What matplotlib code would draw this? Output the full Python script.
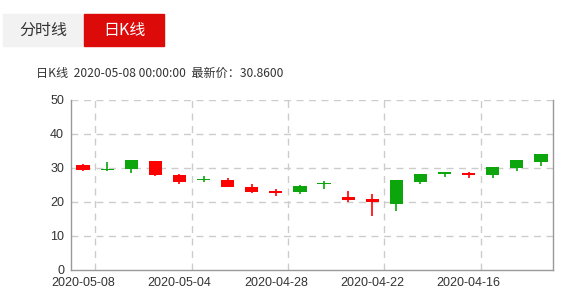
import matplotlib
matplotlib.use("Agg")
import matplotlib.pyplot as plt
from matplotlib.patches import Rectangle

plt.rcParams['font.family'] = ['Liberation Sans', 'Noto Sans CJK SC', 'DejaVu Sans']

# daily candles, newest first (as in the reference)
dates = ["2020-05-08", "2020-05-07", "2020-05-06", "2020-05-05", "2020-05-04",
         "2020-05-01", "2020-04-30", "2020-04-29", "2020-04-28", "2020-04-27",
         "2020-04-24", "2020-04-23", "2020-04-22", "2020-04-21", "2020-04-20",
         "2020-04-17", "2020-04-16", "2020-04-15", "2020-04-14", "2020-04-13"]
opens = [29.4, 29.6, 32.3, 27.9, 26.0, 26.9, 24.4, 22.8, 22.6, 24.8,
         25.5, 20.7, 20.1, 26.4, 28.1, 28.7, 27.8, 30.3, 32.3, 34.1]
closes = [30.86, 29.3, 29.7, 32.0, 28.0, 26.6, 26.6, 24.3, 23.2, 22.8,
          25.2, 21.6, 20.9, 19.3, 25.9, 28.1, 28.5, 27.9, 30.0, 31.7]
highs = [31.2, 31.8, 32.4, 32.1, 28.1, 27.7, 27.0, 25.2, 23.7, 25.0,
         26.2, 23.1, 22.3, 26.5, 28.2, 28.8, 28.9, 30.4, 32.4, 34.2]
lows = [29.2, 29.2, 28.6, 27.6, 25.4, 25.8, 24.3, 22.7, 21.9, 22.4,
        23.9, 20.0, 15.9, 17.4, 25.3, 27.4, 27.1, 27.0, 29.2, 30.6]

up_color = "#ff0000"
down_color = "#0ca60c"

fig = plt.figure(figsize=(5.79, 3.06), dpi=100)

# tabs on top
fig.patches.append(Rectangle((3 / 579, 1 - 46 / 306), 80 / 579, 32 / 306,
                             transform=fig.transFigure, color="#f2f2f2", zorder=0))
fig.patches.append(Rectangle((84 / 579, 1 - 46 / 306), 80 / 579, 32 / 306,
                             transform=fig.transFigure, color="#dd0a0a", zorder=0))
fig.text(43 / 579, 1 - 30 / 306, "分时线", fontsize=11.5, color="#333333",
         ha="center", va="center", family=["Noto Sans CJK SC"])
fig.text(124 / 579, 1 - 30 / 306, "日K线", fontsize=11.5, color="white",
         ha="center", va="center", family=["Noto Sans CJK SC"])
fig.text(36 / 579, 1 - 73 / 306, "日K线  2020-05-08 00:00:00  最新价：30.8600",
         fontsize=8.7, color="#333333", ha="left", va="center",
         family=["Noto Sans CJK SC", "DejaVu Sans"])

ax = fig.add_axes([71 / 579, 36 / 306, 482 / 579, 170 / 306])

x = list(range(len(dates)))
for i in x:
    o, c, h, l = opens[i], closes[i], highs[i], lows[i]
    col = up_color if c >= o else down_color
    ax.vlines(i, l, h, color=col, linewidth=1.2, zorder=3)
    bottom = min(o, c)
    height = max(abs(c - o), 0.3)
    ax.bar(i, height, bottom=bottom, width=0.55, color=col, zorder=4)

ax.set_xlim(-0.5, len(dates) - 0.5)
ax.set_ylim(0, 50)
ax.set_yticks([0, 10, 20, 30, 40, 50])
ax.set_xticks(x[::4])
ax.set_xticklabels(dates[::4])
ax.tick_params(length=0, labelsize=9, colors="#333333", pad=5)

for y in [10, 20, 30, 40, 50]:
    ax.axhline(y, color="#cccccc", linestyle=(0, (5, 4)), linewidth=1, zorder=1)
for i in x[::4]:
    ax.axvline(i + 0.5, color="#cccccc", linestyle=(0, (5, 4)), linewidth=1, zorder=1)

ax.spines["top"].set_visible(False)
for s in ["left", "bottom", "right"]:
    ax.spines[s].set_color("#999999")
    ax.spines[s].set_linewidth(1)

fig.savefig("out.png", dpi=100)
